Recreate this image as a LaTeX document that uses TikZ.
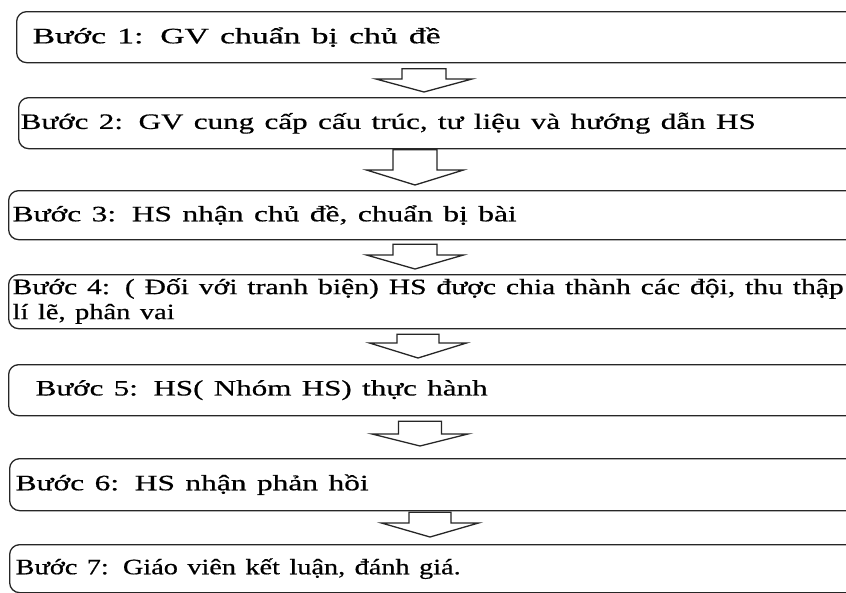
\documentclass[tikz,border=0pt]{standalone}
\usepackage{fontspec}
\usepackage{graphicx}
\setmainfont{Liberation Serif}[FakeBold=0.5]
\usetikzlibrary{calc}
% text stretched to a given width, natural height kept
\newcommand\stxt[2]{\resizebox{#1pt}{\height}{#2}}
\newcommand\boxnode[7]{%
  \pgfmathsetmacro\bxh{#4-#3}%
  \pgfmathsetmacro\bxs{#5-#2}%
  \pgfmathsetmacro\bxw{900-#2-2*\bxs}%
  \node[stepbox, minimum height=\bxh pt, inner xsep=\bxs pt, text width=\bxw pt] (#1) at (#2,#3) {\raisebox{#6pt}{#7}};%
}
% from, to, cx, shaft half width, head half width, top gap, bottom gap, head length
\newcommand\barrow[8]{%
  \draw[blockarr] let \p1=(#1.south), \p2=(#2.north) in
    ({#3pt-#4pt},{\y1-#6pt}) -- ({#3pt+#4pt},{\y1-#6pt})
    -- ({#3pt+#4pt},{\y2+#7pt+#8pt}) -- ({#3pt+#5pt},{\y2+#7pt+#8pt})
    -- ({#3pt},{\y2+#7pt}) -- ({#3pt-#5pt},{\y2+#7pt+#8pt})
    -- ({#3pt-#4pt},{\y2+#7pt+#8pt}) -- cycle;%
}
\tikzset{
  stepbox/.style={draw=black!85, line width=1.3pt, rounded corners=10pt, anchor=north west,
    align=left, inner ysep=0pt, font=\fontsize{22}{25}\selectfont},
  blockarr/.style={draw=black!85, line width=1.3pt, fill=white, line join=miter}
}
\begin{document}
\begin{tikzpicture}[x=1pt,y=-1pt]
\useasboundingbox (0,0) rectangle (846,592);
\clip (0,0) rectangle (846,592);
\fill[white] (0,0) rectangle (846,592);
\boxnode{b1}{16}{11}{62}{32}{3}{\stxt{408}{Bước 1: GV chuẩn bị chủ đề}}
\boxnode{b2}{18}{97}{148}{20}{4}{\stxt{735}{Bước 2: GV cung cấp cấu trúc, tư liệu và hướng dẫn HS}}
\boxnode{b3}{8}{190}{239}{12}{1}{\stxt{504}{Bước 3: HS nhận chủ đề, chuẩn bị bài}}
\boxnode{b4}{8}{274}{328}{12}{-2}{\begin{tabular}{@{}l@{}}\stxt{831}{Bước 4: ( Đối với tranh biện) HS được chia thành các đội, thu thập}\\\stxt{162}{lí lẽ, phân vai}\end{tabular}}
\boxnode{b5}{8}{364}{415}{35}{0}{\stxt{452}{Bước 5: HS( Nhóm HS) thực hành}}
\boxnode{b6}{9}{458}{510}{15}{3}{\stxt{353}{Bước 6: HS nhận phản hồi}}
\boxnode{b7}{9}{544}{592}{15}{-6}{\stxt{445}{Bước 7: Giáo viên kết luận, đánh giá.}}
\barrow{b1}{b2}{424}{22}{48}{5.5}{5}{13}
\barrow{b2}{b3}{415}{22}{48.5}{0.5}{5}{15}
\barrow{b3}{b4}{415}{22}{48.5}{4}{5}{14}
\barrow{b4}{b5}{418}{21}{48.5}{5}{6}{15}
\barrow{b5}{b6}{420}{21.5}{48}{5}{12}{12}
\barrow{b6}{b7}{430}{21}{48.5}{1}{7}{14}
\end{tikzpicture}
\end{document}
